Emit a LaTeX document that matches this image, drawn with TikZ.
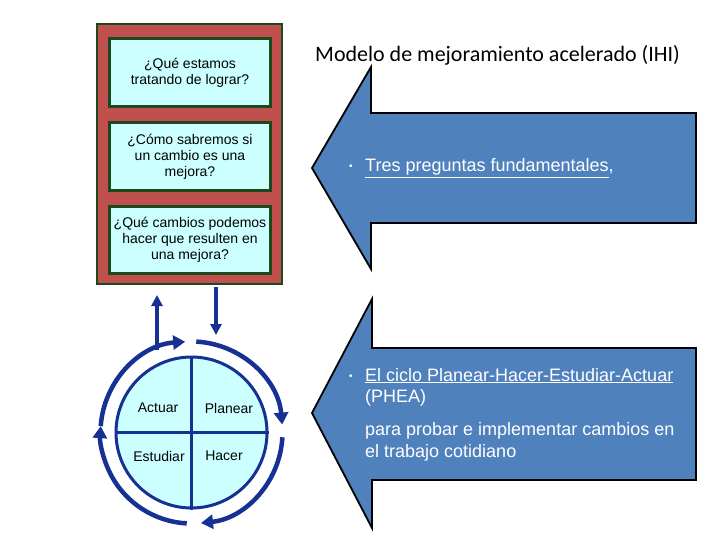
\documentclass[tikz,border=0pt]{standalone}
\usepackage{fontspec}
\setmainfont{Liberation Sans}
\newfontfamily\titlefont{Carlito}
\usetikzlibrary{arrows.meta}
\definecolor{redfill}{RGB}{192,80,77}
\definecolor{darkgreen}{RGB}{28,72,28}
\definecolor{cyanfill}{RGB}{204,255,255}
\definecolor{cycleblue}{RGB}{22,48,148}
\definecolor{bigblue}{RGB}{79,129,189}
\begin{document}
\begin{tikzpicture}[x=1pt,y=-1pt,
  qbox/.style={draw=darkgreen, line width=3pt, fill=cyanfill, minimum width=161pt, minimum height=68pt, align=center, font=\fontsize{14}{15.8}\selectfont, inner sep=0pt},
  lbl/.style={font=\fontsize{14}{15}\selectfont, inner sep=0pt},
  cyc/.style={draw=cycleblue, line width=4.5pt, -{Triangle[length=12pt,width=14pt]}},
  vert/.style={draw=cycleblue, line width=3.5pt, -{Triangle[length=11pt,width=11pt]}},
  bigarrow/.style={fill=bigblue, draw=black, line width=1.8pt, line join=miter},
  wtxt/.style={text=white, font=\fontsize{18}{21}\selectfont, inner sep=0pt, anchor=base west},
  bul/.style={text=white, font=\fontsize{10}{11}\selectfont, inner sep=0pt, anchor=base west}]
\useasboundingbox (0,0) rectangle (720,540);
\fill[white] (0,0) rectangle (720,540);
% frame and question boxes
\node[draw=darkgreen, line width=2pt, fill=redfill, minimum width=185pt, minimum height=260pt, inner sep=0pt] (frame) at (189.5,154) {};
\node[qbox] (q1) at (190,72.5) {¿Qué estamos\\tratando de lograr?};
\node[qbox] (q2) at (190,156.5) {¿Cómo sabremos si\\un cambio es una\\mejora?};
\node[qbox, minimum height=67pt] (q3) at (190,240) {¿Qué cambios podemos\\hacer que resulten en\\una mejora?};
% cycle
\node[circle, draw=cycleblue, line width=3pt, fill=cyanfill, minimum size=151pt, inner sep=0pt] (circ) at (191.5,432.5) {};
\draw[draw=cycleblue, line width=3pt] (circ.north) -- (circ.south);
\draw[draw=cycleblue, line width=3pt] (circ.west) -- (circ.east);
\node[lbl] (actuar) at (158,408) {Actuar};
\node[lbl] (planear) at (229,408) {Planear};
\node[lbl] (estudiar) at (159,456) {Estudiar};
\node[lbl] (hacer) at (224,456) {Hacer};
\draw[cyc] (circ.center) ++(-176:91) arc[start angle=-176, end angle=-94, radius=91];
\draw[cyc] (circ.center) ++(-87:91) arc[start angle=-87, end angle=-5, radius=91];
\draw[cyc] (circ.center) ++(3:91) arc[start angle=3, end angle=84, radius=91];
\draw[cyc] (circ.center) ++(93:91) arc[start angle=93, end angle=184, radius=91];
\coordinate (upbase) at (157,350);
\coordinate (uptip) at (157,295);
\coordinate (downtop) at (216,287);
\coordinate (downtip) at (216,335);
\draw[vert] (upbase) -- (uptip);
\draw[vert] (downtop) -- (downtip);
% title
\node[font=\titlefont\fontsize{22}{26}\selectfont, inner sep=0pt] (title) at (497.5,55) {Modelo de mejoramiento acelerado (IHI)};
% big arrows
\draw[bigarrow] (312,168) -- (371,67) -- (371,113) -- (696,113) -- (696,223) -- (371,223) -- (371,269) -- cycle;
\draw[bigarrow] (312,413) -- (372,299) -- (372,348) -- (696,348) -- (696,480) -- (372,480) -- (372,528) -- cycle;
% arrow texts
\node[bul] (b1) at (349,170) {•};
\node[wtxt] (t1) at (365,172) {\underline{Tres preguntas fundamentales},};
\node[bul] (b2) at (349,379) {•};
\node[wtxt] (t2) at (365,381) {\underline{El ciclo Planear-Hacer-Estudiar-Actuar}};
\node[wtxt] (t3) at (365,402) {(PHEA)};
\node[wtxt] (t4) at (365,435) {para probar e implementar cambios en};
\node[wtxt] (t5) at (365,457) {el trabajo cotidiano};
\end{tikzpicture}
\end{document}
